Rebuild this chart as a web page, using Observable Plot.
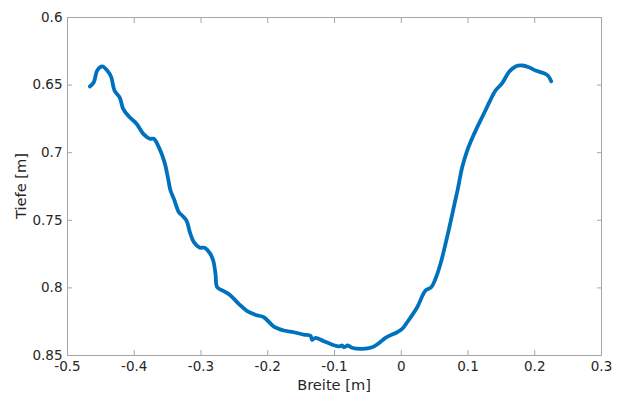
<!DOCTYPE html>
<html><head><meta charset="utf-8">
<script src="https://cdn.jsdelivr.net/npm/d3@7"></script>
<script src="https://cdn.jsdelivr.net/npm/@observablehq/plot@0.6"></script>
<style>body{margin:0;background:#fff;} svg{font-family:"DejaVu Sans",sans-serif;}</style>
</head><body><div id="chart"></div>
<script>
const breite = [-0.4666,-0.4606,-0.4555,-0.448,-0.4405,-0.4345,-0.4296,-0.4216,-0.4166,-0.408,-0.3966,-0.3857,-0.3767,-0.3707,-0.3632,-0.3547,-0.3497,-0.3457,-0.3407,-0.3332,-0.3282,-0.3217,-0.3167,-0.3107,-0.3017,-0.2948,-0.2868,-0.2817,-0.2783,-0.2757,-0.2658,-0.2558,-0.2434,-0.2308,-0.2180,-0.2059,-0.1909,-0.1759,-0.161,-0.146,-0.136,-0.1334,-0.1285,-0.116,-0.101,-0.0935,-0.0885,-0.086,-0.0801,-0.0736,-0.0585,-0.0436,-0.0336,-0.0236,-0.0061,0.0014,0.0089,0.0239,0.0363,0.0449,0.0513,0.0588,0.0663,0.0738,0.0798,0.0848,0.0913,0.0988,0.1048,0.1138,0.1237,0.1327,0.1412,0.1512,0.1612,0.1712,0.1812,0.1912,0.2011,0.2136,0.2196,0.2246];
const tiefe = [0.651,0.6479,0.6392,0.6362,0.6392,0.6441,0.654,0.6594,0.6676,0.6732,0.6786,0.6865,0.6897,0.6897,0.6959,0.707,0.7181,0.728,0.734,0.744,0.7465,0.7502,0.7588,0.7662,0.7703,0.7703,0.7743,0.7797,0.7896,0.7995,0.8024,0.8056,0.8118,0.8172,0.8200,0.8217,0.8286,0.8315,0.8328,0.8345,0.8354,0.8384,0.8369,0.8394,0.8424,0.8433,0.8426,0.8439,0.8426,0.8443,0.8451,0.8439,0.8409,0.8369,0.8328,0.8303,0.8254,0.8143,0.8019,0.7995,0.7933,0.7822,0.7674,0.7514,0.7378,0.7267,0.7107,0.6984,0.691,0.6811,0.6712,0.6619,0.654,0.6486,0.6404,0.6362,0.6355,0.6368,0.6392,0.6412,0.6429,0.6471];
const xTicks = [-0.5,-0.4,-0.3,-0.2,-0.1,0,0.1,0.2,0.3];
const yTicks = [0.6,0.65,0.7,0.75,0.8,0.85];
const xLabel = "Breite [m]";
const yLabel = "Tiefe [m]";

const data = breite.map((b,i)=>({b, t: tiefe[i]}));
const axisColor = "#a6a6a6";
const textColor = "#262626";

const chart = Plot.plot({
  width: 622, height: 394,
  marginLeft: 67, marginRight: 21, marginTop: 17, marginBottom: 39,
  style: {fontSize: "13.5px", fontFamily: "DejaVu Sans, sans-serif", color: textColor, background: "#fff"},
  x: {domain: [-0.5, 0.3], ticks: xTicks, label: null},
  y: {domain: [0.6, 0.85], reverse: true, ticks: yTicks, label: null},
  marks: [
    Plot.frame({stroke: axisColor}),
    Plot.axisX(xTicks, {anchor: "bottom", tickSize: -5, tickPadding: 11, stroke: axisColor, fill: textColor, tickFormat: d => String(d), label: null}),
    Plot.axisX(xTicks, {anchor: "top", tickSize: -5, tickFormat: () => "", stroke: axisColor, label: null}),
    Plot.axisY(yTicks, {anchor: "left", tickSize: -5, tickPadding: 10, stroke: axisColor, fill: textColor, tickFormat: d => String(d), label: null}),
    Plot.axisY(yTicks, {anchor: "right", tickSize: -5, tickFormat: () => "", stroke: axisColor, label: null}),
    Plot.line(data, {x: "b", y: "t", stroke: "#0072BD", strokeWidth: 3.8, curve: "catmull-rom", strokeLinejoin: "round", strokeLinecap: "round"})
  ]
});
const svg = d3.select(chart);
svg.append("text").attr("x", 334).attr("y", 390).attr("text-anchor", "middle")
  .attr("font-size", 14.6).attr("fill", textColor).text(xLabel);
svg.append("text").attr("transform", "translate(26,186) rotate(-90)").attr("text-anchor", "middle")
  .attr("font-size", 14.6).attr("fill", textColor).text(yLabel);
document.getElementById("chart").appendChild(chart);
</script></body></html>
